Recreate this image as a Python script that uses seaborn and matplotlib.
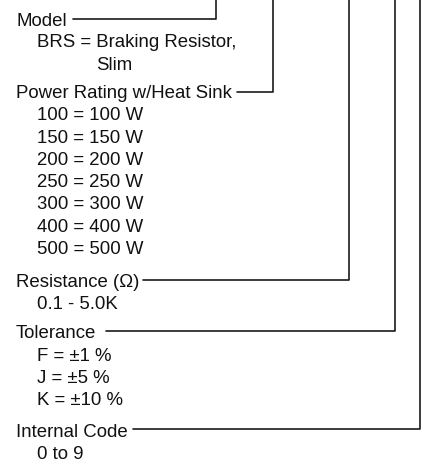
import pandas as pd
import matplotlib.pyplot as plt
import seaborn as sns

# Ordering-code legend: section headers, their option lines, and connector columns
headers = ['Model', 'Power Rating w/Heat Sink', 'Resistance (\u03a9)', 'Tolerance', 'Internal Code']
options = [
    ['BRS = Braking Resistor,', 'Slim'],
    ['100 = 100 W', '150 = 150 W', '200 = 200 W', '250 = 250 W',
     '300 = 300 W', '400 = 400 W', '500 = 500 W'],
    ['0.1 - 5.0K'],
    ['F = \u00b11 %', 'J = \u00b15 %', 'K = \u00b110 %'],
    ['0 to 9'],
]

# Layout (pixels, y down)
header_baseline = [25.5, 98.0, 286.7, 338.3, 436.7]
line_y = [19.5, 93.0, 280.5, 332.0, 430.0]
line_x0 = [73, 237, 142.5, 106, 133]
column_x = [216, 272.5, 349, 394.5, 419.5]
step = 22.3
x_head, x_opt = 16, 37
x_wrap = 96  # continuation line ("Slim")

sns.set_theme(style='white')
plt.rcParams['font.family'] = ['Liberation Sans', 'DejaVu Sans']

fig = plt.figure(figsize=(4.24, 4.64), dpi=100)
ax = fig.add_axes([0, 0, 1, 1])

# connector paths
rows = []
for i in range(len(headers)):
    rows.append((i, 0, line_x0[i], line_y[i]))
    rows.append((i, 1, column_x[i], line_y[i]))
    rows.append((i, 2, column_x[i], -2))
paths = pd.DataFrame(rows, columns=['sec', 'order', 'x', 'y'])
sns.lineplot(data=paths, x='x', y='y', units='sec', estimator=None, sort=False,
             color='#1a1a1a', linewidth=1.2, ax=ax, legend=False)
ax.set_xlim(0, 424)
ax.set_ylim(464, 0)
ax.axis('off')

fs = 13.4
for i, h in enumerate(headers):
    ax.text(x_head, header_baseline[i], h, fontsize=fs, va='baseline', color='#111111')
    for j, opt in enumerate(options[i]):
        x = x_wrap if (i == 0 and j == 1) else x_opt
        y = header_baseline[i] + step * (j + 1) - (0.6 if i == 0 else 0)
        ax.text(x, y, opt, fontsize=fs, va='baseline', color='#111111')

plt.savefig('out.png', dpi=100)
